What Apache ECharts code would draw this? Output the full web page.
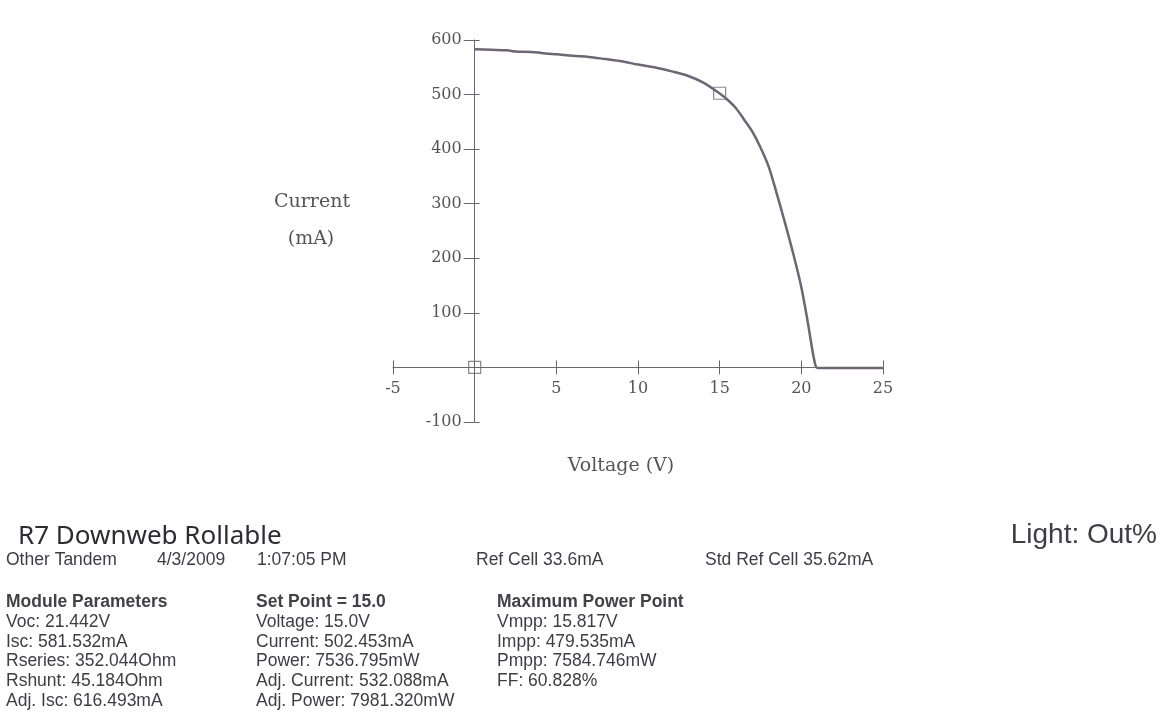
<!DOCTYPE html>
<html><head><meta charset="utf-8">
<script src="https://cdn.jsdelivr.net/npm/echarts@6/dist/echarts.min.js"></script>
<style>html,body{margin:0;padding:0;background:#fff}#c{width:1169px;height:722px}</style>
</head><body><div id="c"></div>
<script>
// I-V curve data (Voltage V, Current mA)
const voltage = [0, 1, 2, 2.5, 3.5, 4.5, 5, 6, 7, 8, 9, 10, 11, 12, 13, 14, 15, 15.5, 16, 16.5, 17, 17.5, 18, 18.5, 19, 19.5, 20, 20.4, 20.8, 21.0, 25];
const current = [583, 582, 581, 579, 578, 575, 574, 571, 569, 565, 561, 555, 550, 543, 535, 522, 502, 490, 475, 454, 432, 403, 368, 318, 265, 209, 147, 82, 12, -1, -1];
// square markers: origin and set point
const markerV = [0, 15];
const markerI = [0, 502.453];
const xTicks = [-5, 0, 5, 10, 15, 20, 25];
const yTicks = [-100, 0, 100, 200, 300, 400, 500, 600];

const headerRow = [
  ['Other Tandem', 6], ['4/3/2009', 157], ['1:07:05 PM', 257], ['Ref Cell 33.6mA', 476], ['Std Ref Cell 35.62mA', 705]
];
const col1 = ['Module Parameters', 'Voc: 21.442V', 'Isc: 581.532mA', 'Rseries: 352.044Ohm', 'Rshunt: 45.184Ohm', 'Adj. Isc: 616.493mA'];
const col2 = ['Set Point = 15.0', 'Voltage: 15.0V', 'Current: 502.453mA', 'Power: 7536.795mW', 'Adj. Current: 532.088mA', 'Adj. Power: 7981.320mW'];
const col3 = ['Maximum Power Point', 'Vmpp: 15.817V', 'Impp: 479.535mA', 'Pmpp: 7584.746mW', 'FF: 60.828%'];

const chart = echarts.init(document.getElementById('c'), null, {renderer: 'canvas'});
const axisCol = '#6a6670';
const serif = '"DejaVu Serif", "Liberation Serif", serif';
const sans = '"Liberation Sans", Arial, sans-serif';
const txtCol = '#3f3c44';

const G = {left: 393, right: 286, top: 40, bottom: 300};
const W = 1169 - G.left - G.right, H = 722 - G.top - G.bottom;
const xMin = xTicks[0], xMax = xTicks[xTicks.length - 1];
const yMin = yTicks[0], yMax = yTicks[yTicks.length - 1];
// axes cross at the origin
const xOff = -H * (0 - yMin) / (yMax - yMin);
const yOff = -W * (0 - xMin) / (xMax - xMin);

const graphics = [];
graphics.push({type: 'text', x: 312, y: 202, style: {text: 'Current', font: '19px ' + serif, fill: '#555', align: 'center', verticalAlign: 'middle'}});
graphics.push({type: 'text', x: 311, y: 239, style: {text: '(mA)', font: '19px ' + serif, fill: '#555', align: 'center', verticalAlign: 'middle'}});
graphics.push({type: 'text', x: 621, y: 466, style: {text: 'Voltage (V)', font: '19px ' + serif, fill: '#555', align: 'center', verticalAlign: 'middle'}});
graphics.push({type: 'text', x: 18, y: 537, style: {text: 'R7 Downweb Rollable', font: '26px "Noto Sans", sans-serif', fill: '#2e2b33', align: 'left', verticalAlign: 'middle'}});
graphics.push({type: 'text', x: 1157, y: 535, style: {text: 'Light: Out%', font: '28px "Liberation Sans Narrow", "Liberation Sans", sans-serif', fill: txtCol, align: 'right', verticalAlign: 'middle'}});
headerRow.forEach(function (h) {
  graphics.push({type: 'text', x: h[1], y: 560, style: {text: h[0], font: '17.5px ' + sans, fill: txtCol, align: 'left', verticalAlign: 'middle'}});
});
const rowY = [602, 622, 642, 661, 681, 701];
[[col1, 6], [col2, 256], [col3, 497]].forEach(function (c) {
  c[0].forEach(function (t, i) {
    graphics.push({type: 'text', x: c[1], y: rowY[i], style: {text: t, font: (i === 0 ? 'bold ' : '') + '17.5px ' + sans, fill: i === 0 ? '#444048' : txtCol, align: 'left', verticalAlign: 'middle'}});
  });
});

function lbl(v) { return v === 0 ? '' : String(v); }

chart.setOption({
  animation: false,
  backgroundColor: '#ffffff',
  grid: {left: G.left, right: G.right, top: G.top, bottom: G.bottom, containLabel: false},
  xAxis: [{
    type: 'value', min: xMin, max: xMax, interval: 5, position: 'bottom', offset: xOff,
    axisLine: {show: true, onZero: false, lineStyle: {color: axisCol, width: 1}},
    axisTick: {show: true, inside: false, length: 7, lineStyle: {color: axisCol}},
    axisLabel: {formatter: lbl, margin: 13, color: '#555', fontFamily: serif, fontSize: 16},
    splitLine: {show: false}
  }, {
    type: 'value', min: xMin, max: xMax, interval: 5, position: 'bottom', offset: xOff,
    axisLine: {show: false, onZero: false},
    axisTick: {show: true, inside: true, length: 7, lineStyle: {color: axisCol}},
    axisLabel: {show: false}, splitLine: {show: false}
  }],
  yAxis: [{
    type: 'value', min: yMin, max: yMax, interval: 100, position: 'left', offset: yOff,
    axisLine: {show: true, onZero: false, lineStyle: {color: axisCol, width: 1}},
    axisTick: {show: true, inside: false, length: 11, lineStyle: {color: axisCol}},
    axisLabel: {formatter: lbl, margin: 13, color: '#555', fontFamily: serif, fontSize: 16},
    splitLine: {show: false}
  }, {
    type: 'value', min: yMin, max: yMax, interval: 100, position: 'left', offset: yOff,
    axisLine: {show: false, onZero: false},
    axisTick: {show: true, inside: true, length: 5, lineStyle: {color: axisCol}},
    axisLabel: {show: false}, splitLine: {show: false}
  }],
  series: [{
    type: 'line', xAxisIndex: 0, yAxisIndex: 0,
    data: voltage.map(function (v, i) { return [v, current[i]]; }),
    smooth: 0.3, showSymbol: false, symbol: 'none',
    lineStyle: {color: '#6e6575', width: 2.5}
  }, {
    type: 'scatter', xAxisIndex: 0, yAxisIndex: 0,
    data: markerV.map(function (v, i) { return [v, markerI[i]]; }),
    symbol: 'rect', symbolSize: 12,
    itemStyle: {color: 'rgba(0,0,0,0)', borderColor: '#6e6575', borderWidth: 1.2}
  }],
  graphic: graphics
});
</script></body></html>
